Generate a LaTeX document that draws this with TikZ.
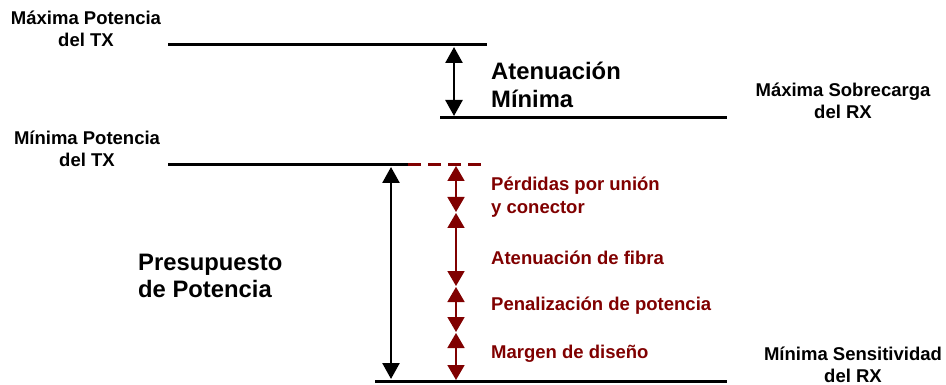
\documentclass[tikz,border=0pt]{standalone}
\usepackage{fontspec}
\setmainfont{Liberation Sans}
\usetikzlibrary{arrows.meta}
\definecolor{dred}{HTML}{800000}
\tikzset{
  level/.style={line width=3pt},
  tip/.style={},
  meas/.style={line width=2.6pt,{Triangle[width=17pt,length=16pt]}-{Triangle[width=17pt,length=16pt]}},
  rmeas/.style={line width=1.8pt,dred,{Triangle[width=17pt,length=15pt]}-{Triangle[width=17pt,length=15pt]}},
  small/.style={font=\fontsize{18.5}{22.5}\selectfont\bfseries,align=center,inner sep=0pt},
  big/.style={font=\fontsize{23.8}{27.5}\selectfont\bfseries,align=left,inner sep=0pt,anchor=west},
  rlab/.style={font=\fontsize{18.5}{22.5}\selectfont\bfseries,align=left,inner sep=0pt,anchor=west,text=dred}
}
\begin{document}
\begin{tikzpicture}[x=1pt,y=-1pt]
\useasboundingbox (0,0) rectangle (946,385);
% levels
\coordinate (maxA) at (168,45); \coordinate (maxB) at (487,45);
\coordinate (minA) at (168,165); \coordinate (minB) at (408,165); \coordinate (minC) at (487,165);
\coordinate (ovA) at (440,118); \coordinate (ovB) at (727,118);
\coordinate (sA) at (375,381); \coordinate (sB) at (727,381);
\draw[level] (maxA) -- (maxB);
\draw[level] (minA) -- (minB);
\draw[dred,line width=3pt,dash pattern=on 13pt off 7pt] (minB) -- (minC);
\draw[level] (ovA) -- (ovB);
\draw[level] (sA) -- (sB);
% black arrows
\coordinate (a1) at (454,47); \coordinate (a2) at (454,116);
\draw[meas] (a1) -- (a2);
\coordinate (b1) at (391,167); \coordinate (b2) at (391,379);
\draw[meas] (b1) -- (b2);
% red arrows
\coordinate (r0) at (456,166); \coordinate (r1) at (456,212);
\coordinate (r1b) at (456,213); \coordinate (r2) at (456,286);
\coordinate (r2b) at (456,287); \coordinate (r3) at (456,332);
\coordinate (r3b) at (456,333); \coordinate (r4) at (456,380);
\draw[rmeas] (r0) -- (r1);
\draw[rmeas] (r1b) -- (r2);
\draw[rmeas] (r2b) -- (r3);
\draw[rmeas] (r3b) -- (r4);
% labels
\node[small] (tmax) at (86,29) {Máxima Potencia\\del TX};
\node[small] (tmin) at (87,149) {Mínima Potencia\\del TX};
\node[small] (rmax) at (843,101) {Máxima Sobrecarga\\del RX};
\node[small] (rmin) at (853,365) {Mínima Sensitividad\\del RX};
\node[big] (atmin) at (491,85) {Atenuación\\Mínima};
\node[big] (pres) at (138,276) {Presupuesto\\de Potencia};
\node[rlab] (l1) at (491,197) {Pérdidas por unión\\y conector};
\node[rlab] (l2) at (491,258) {Atenuación de fibra};
\node[rlab] (l3) at (491,306) {Penalización de potencia};
\node[rlab] (l4) at (491,354) {Margen de diseño};
\end{tikzpicture}
\end{document}
